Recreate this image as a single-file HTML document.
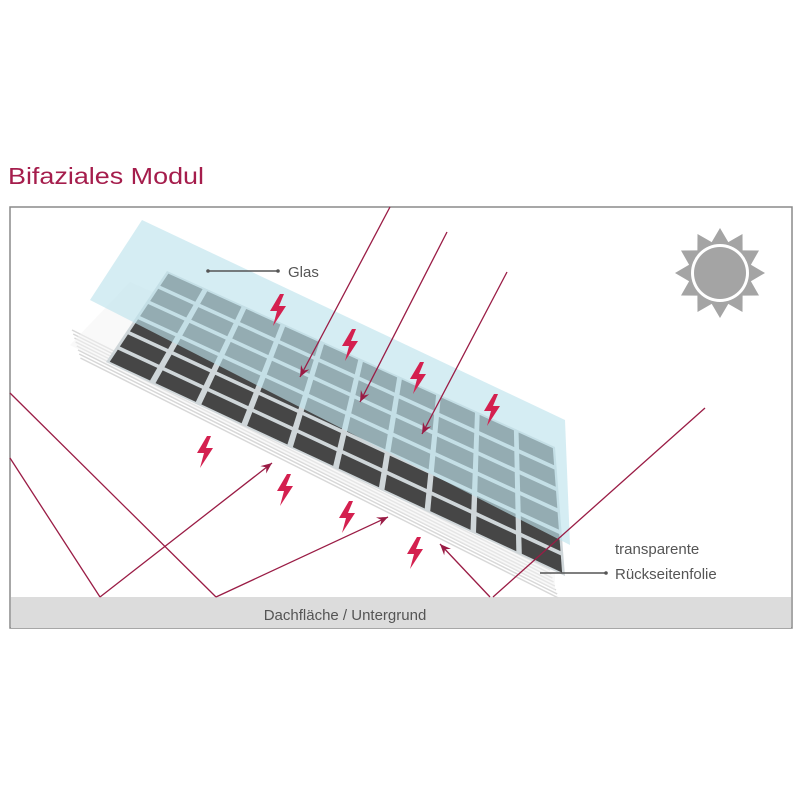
<!DOCTYPE html>
<html><head><meta charset="utf-8"><style>
body{margin:0;background:#fff;width:800px;height:800px;overflow:hidden;font-family:"Liberation Sans",sans-serif}
</style></head><body>
<svg id="s" width="800" height="800" viewBox="0 0 800 800" xmlns="http://www.w3.org/2000/svg">
<rect width="800" height="800" fill="#fff"/>
<text x="8" y="184" font-family="Liberation Sans, sans-serif" font-size="23" fill="#a51d4c" textLength="196" lengthAdjust="spacingAndGlyphs">Bifaziales Modul</text>
<rect x="10" y="207" width="782" height="421" fill="none" stroke="#8a8a8a" stroke-width="1.5"/>
<rect x="11" y="597" width="780" height="31" fill="#dcdcdc"/>
<text x="345" y="620" text-anchor="middle" font-size="15" fill="#555">Dachfläche / Untergrund</text>
<g id="back"></g>
<g id="grid"></g>
<polygon points="142,220 565,420 570,545 90,300" fill="#bfe3ec" opacity="0.65"/>
<g id="rays" stroke="#9a1c45" stroke-width="1.3" fill="none"></g>
<g id="bolts" fill="#d4204f"></g>
<g id="sun"></g>
<line x1="208" y1="271" x2="278" y2="271" stroke="#555" stroke-width="1.5"/>
<circle cx="208" cy="271" r="1.8" fill="#555"/><circle cx="278" cy="271" r="1.8" fill="#555"/>
<text x="288" y="277" font-size="15" fill="#555">Glas</text>
<line x1="540" y1="573" x2="606" y2="573" stroke="#555" stroke-width="1.5"/>
<circle cx="606" cy="573" r="1.8" fill="#555"/>
<text x="615" y="554" font-size="15" fill="#555">transparente</text>
<text x="615" y="579" font-size="15" fill="#555">Rückseitenfolie</text>
</svg>
<script>
var NS="http://www.w3.org/2000/svg";
function el(p,t,a){var e=document.createElementNS(NS,t);for(var k in a)e.setAttribute(k,a[k]);document.getElementById(p).appendChild(e);return e;}
for(var i=0;i<8;i++){var o=i*4;
el("back","line",{x1:72+o*0.3,y1:330+o,x2:550+o*0.3,y2:570+o,stroke:"#d8d8d8","stroke-width":1.5});}
el("back","polygon",{points:"130,282 555,470 555,590 70,345",fill:"#f3f3f3",opacity:0.5});
var TL=[167,271],TR=[555,447],BL=[106,362],BR=[565,576];
function P(u,v){var tx=TL[0]+(TR[0]-TL[0])*u,ty=TL[1]+(TR[1]-TL[1])*u,bx=BL[0]+(BR[0]-BL[0])*u,by=BL[1]+(BR[1]-BL[1])*u;return [tx+(bx-tx)*v,ty+(by-ty)*v];}
el("grid","polygon",{points:[P(0,0),P(1,0),P(1,1),P(0,1)].map(function(p){return p.join(",")}).join(" "),fill:"#cfd6d9"});
var C=10,R=6,g=0.06,gv=0.1;
for(var c=0;c<C;c++)for(var r=0;r<R;r++){
var u0=(c+g)/C,u1=(c+1-g)/C,v0=(r+gv)/R,v1=(r+1-gv)/R;
el("grid","polygon",{points:[P(u0,v0),P(u1,v0),P(u1,v1),P(u0,v1)].map(function(p){return p.join(",")}).join(" "),fill:"#464646"});}
function ray(x1,y1,x2,y2,arrow){el("rays","line",{x1:x1,y1:y1,x2:x2,y2:y2});
if(arrow){var a=Math.atan2(y2-y1,x2-x1),L=12,w=0.4;
el("rays","polygon",{points:x2+","+y2+" "+(x2-L*Math.cos(a-w))+","+(y2-L*Math.sin(a-w))+" "+(x2-L*0.6*Math.cos(a))+","+(y2-L*0.6*Math.sin(a))+" "+(x2-L*Math.cos(a+w))+","+(y2-L*Math.sin(a+w)),fill:"#9a1c45",stroke:"none"});}}
ray(390,207,300,377,1);ray(447,232,360,402,1);ray(507,272,422,434,1);
ray(10,393,216,597);ray(10,458,100,597);
ray(100,597,272,463,1);ray(216,597,388,517,1);
ray(705,408,493,597);ray(490,597,440,544,1);
[[278,310],[350,345],[418,378],[492,410],[205,452],[285,490],[347,517],[415,553]].forEach(function(b){
var x=b[0],y=b[1];
el("bolts","polygon",{points:(x+2)+","+(y-16)+" "+(x-8)+","+(y+1)+" "+(x-1)+","+(y+1)+" "+(x-5)+","+(y+16)+" "+(x+8)+","+(y-4)+" "+(x+1)+","+(y-4)+" "+(x+6)+","+(y-16)});});
var cx=720,cy=273,pts=[];
for(var i=0;i<24;i++){var a=i*Math.PI/12-Math.PI/2,r=(i%2==0)?45:32;pts.push((cx+r*Math.cos(a)).toFixed(1)+","+(cy+r*Math.sin(a)).toFixed(1));}
el("sun","polygon",{points:pts.join(" "),fill:"#a4a4a4"});
el("sun","circle",{cx:cx,cy:cy,r:29,fill:"#fff"});
el("sun","circle",{cx:cx,cy:cy,r:26,fill:"#a4a4a4"});
</script>
</body></html>
